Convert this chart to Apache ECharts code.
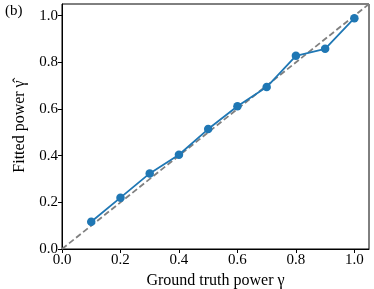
<!DOCTYPE html>
<html><head><meta charset="utf-8">
<script src="https://cdn.jsdelivr.net/npm/echarts@6/dist/echarts.min.js"></script>
<style>html,body{margin:0;padding:0;background:#fff}#c{width:374px;height:289px}</style>
</head><body><div id="c"></div>
<script>
var groundTruth = [0.1, 0.2, 0.3, 0.4, 0.5, 0.6, 0.7, 0.8, 0.9, 1.0];
var fitted = [0.117, 0.220, 0.324, 0.404, 0.514, 0.612, 0.694, 0.828, 0.858, 0.989];
var diagonal = [0, 1.05];
var tickValues = [0, 0.2, 0.4, 0.6, 0.8, 1.0];
var xLabel = 'Ground truth power γ';
var yLabel = 'Fitted power γ\u0302';
var panelLabel = '(b)';

var font = 'Liberation Serif';
var chart = echarts.init(document.getElementById('c'));
function axis(name, gap, rot) {
  return {
    type: 'value', min: 0, max: 1.05, interval: 0.2,
    name: name, nameLocation: 'middle', nameGap: gap, nameRotate: rot,
    nameTextStyle: {fontFamily: font, fontSize: 16, color: '#000'},
    axisLine: {show: true, onZero: false, lineStyle: {color: '#000', width: 1}},
    axisTick: {show: true, length: 4, inside: false, lineStyle: {color: '#000'}},
    axisLabel: {fontFamily: font, fontSize: 15, color: '#000', margin: 4,
      formatter: function(v){ return v.toFixed(1); },
      showMaxLabel: false},
    splitLine: {show: false}
  };
}
var xa = axis(xLabel, 24, 0);
var ya = axis(yLabel, 34, 90);
chart.setOption({
  animation: false,
  grid: {left: 62, top: 4, right: 5, bottom: 40, show: true, borderColor: '#000', borderWidth: 1,
         containLabel: false, outerBoundsMode: 'none'},
  xAxis: xa,
  yAxis: ya,
  graphic: [{type: 'text', left: 5, top: 4, style: {text: panelLabel, font: '15px "' + font + '"', fill: '#000'}}],
  series: [
    {type: 'line', data: diagonal.map(function(v){return [v, v];}), symbol: 'none',
     lineStyle: {color: '#808080', width: 1.8, type: [6, 3]}, z: 1},
    {type: 'line', data: groundTruth.map(function(v, i){return [v, fitted[i]];}),
     symbol: 'circle', symbolSize: 8.5, itemStyle: {color: '#1f77b4'},
     lineStyle: {color: '#1f77b4', width: 1.8}, z: 2}
  ]
});
</script></body></html>
